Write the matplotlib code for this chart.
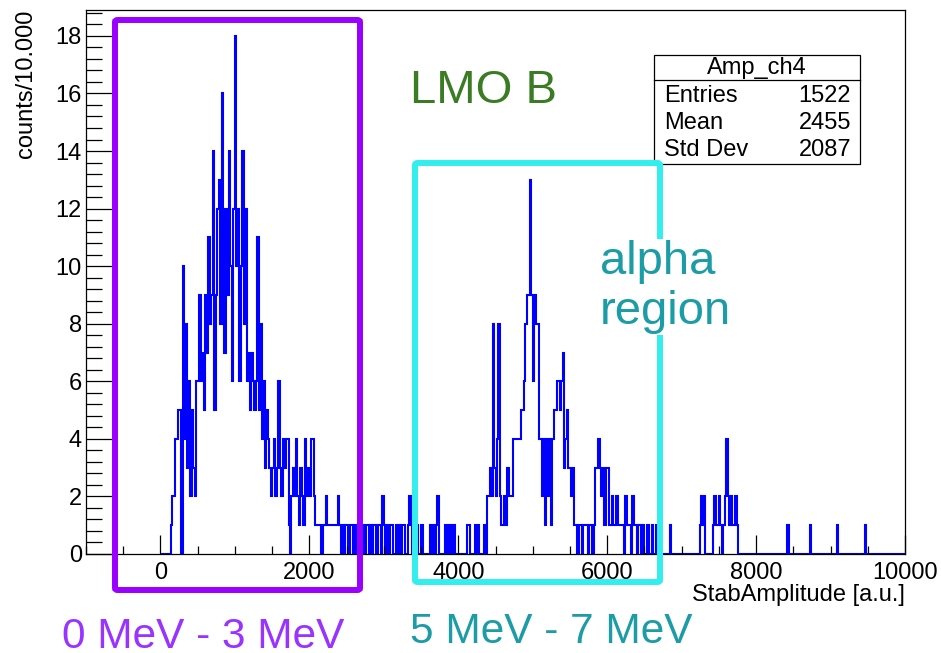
import numpy as np
import matplotlib.pyplot as plt
from matplotlib.patches import FancyBboxPatch, Rectangle
from matplotlib.ticker import MultipleLocator

plt.rcParams['font.family'] = ['Liberation Sans', 'DejaVu Sans']

# histogram Amp_ch4: 20 a.u. bins from 0 to 10000, one row = 500 a.u.
bin_width = 20
low_peak = [
    [0, 0, 0, 0, 0, 0, 0, 1, 2, 2, 4, 4, 5, 5, 0, 10, 4, 8, 3, 6, 2, 5, 3, 2, 6],
    [6, 9, 6, 7, 5, 9, 7, 11, 8, 9, 14, 5, 9, 12, 13, 8, 16, 12, 7, 12, 9, 14, 10, 6, 12],
    [18, 10, 12, 6, 10, 14, 8, 12, 6, 7, 5, 7, 6, 5, 6, 11, 5, 8, 4, 6, 3, 5, 4, 3, 2],
    [3, 4, 2, 3, 6, 3, 2, 4, 3, 4, 4, 1, 0, 2, 3, 2, 4, 2, 1, 3, 2, 1, 4, 2, 3],
    [2, 4, 4, 2, 1, 1, 1, 1, 0, 1, 1, 2, 1, 1, 1, 1, 1, 1, 1, 2, 1, 0, 1, 0, 1],
]
middle = [
    [1, 0, 1, 1, 0, 1, 0, 1, 0, 0, 0, 1, 0, 1, 1, 0, 1, 0, 1, 1, 0, 1, 1, 0, 2],
    [1, 0, 1, 0, 1, 1, 0, 0, 1, 0, 1, 0, 1, 1, 0, 0, 1, 2, 1, 0, 0, 0, 1, 0, 0],
    [1, 0, 0, 0, 0, 0, 1, 0, 1, 0, 1, 2, 0, 0, 0, 0, 1, 0, 1, 0, 1, 0, 1, 0, 0],
]
alpha_peak = [
    [0, 0, 0, 0, 0, 0, 1, 1, 0, 0, 0, 1, 0, 1, 0, 0, 0, 1, 0, 2, 2, 3, 2, 8, 3],
    [2, 4, 8, 2, 1, 1, 2, 1, 3, 2, 2, 2, 4, 4, 4, 4, 4, 5, 5, 6, 8, 9, 9, 13, 9],
    [6, 9, 8, 8, 4, 4, 2, 4, 1, 4, 2, 4, 1, 4, 5, 5, 6, 6, 5, 6, 7, 3, 4, 5, 3],
    [3, 2, 3, 1, 1, 0, 1, 1, 0, 1, 1, 1, 0, 1, 1, 0, 1, 3, 3, 4, 3, 2, 3, 1, 3],
    [3, 1, 1, 2, 1, 1, 2, 1, 1, 1, 1, 0, 2, 1, 1, 1, 0, 2, 1, 1, 0, 1, 1, 0, 1],
    [0, 0, 1, 0, 0, 1, 0, 0, 1, 0, 0, 0, 0, 0, 0, 0, 0, 1, 0, 0, 0, 0, 0, 0, 0],
]
tail = [
    [0, 0, 0, 0, 0, 0, 0, 0, 0, 0, 0, 0, 1, 2, 1, 2, 0, 0, 0, 0, 0, 1, 2, 1, 1],
    [2, 1, 0, 1, 2, 4, 2, 1, 2, 1, 1, 2, 1, 0, 0, 0, 0, 0, 0, 0, 0, 0, 0, 0, 0],
    [0, 0, 0, 0, 0, 0, 0, 0, 0, 0, 0, 0, 0, 0, 0, 0, 0, 0, 0, 0, 0, 1, 0, 0, 0],
    [0, 0, 0, 0, 0, 0, 0, 0, 0, 0, 0, 1, 0, 0, 0, 0, 0, 0, 0, 0, 0, 0, 0, 0, 0],
    [0, 0, 0, 0, 1, 0, 0, 0, 0, 0, 0, 0, 0, 0, 0, 0, 0, 0, 0, 0, 0, 0, 0, 1, 0],
    [0, 0, 0, 0, 0, 0, 0, 0, 0, 0, 0, 0, 0, 0, 0, 0, 0, 0, 0, 0, 0, 0, 0, 0, 0],
]

stats_title = 'Amp_ch4'
stats_names = ['Entries', 'Mean', 'Std Dev']
stats_values = ['1522', '2455', '2087']

W, H = 941, 653


def fx(x):
    return x / W


def fy(y):
    return 1 - y / H


counts = np.concatenate([np.ravel(r) for r in (low_peak, middle, alpha_peak, tail)])
edges = np.arange(len(counts) + 1) * bin_width

fig = plt.figure(figsize=(W / 100, H / 100), dpi=100)
ax = fig.add_axes([fx(86), fy(554), (905 - 86) / W, (554 - 10) / H])

ax.stairs(counts, edges, color='#0000ff', linewidth=1.5, baseline=0)

ax.set_xlim(-1000, 10000)
ax.set_ylim(0, 18.9)
ax.xaxis.set_major_locator(MultipleLocator(2000))
ax.xaxis.set_minor_locator(MultipleLocator(500))
ax.yaxis.set_major_locator(MultipleLocator(2))
ax.yaxis.set_minor_locator(MultipleLocator(0.4))
ax.tick_params(axis='both', which='both', direction='in', width=0.9,
               top=False, right=False, labelsize=17)
ax.tick_params(axis='x', which='major', length=13.5, pad=6)
ax.tick_params(axis='x', which='minor', length=5.8)
ax.tick_params(axis='y', which='major', length=18.5, pad=3)
ax.tick_params(axis='y', which='minor', length=11.3)
for s in ax.spines.values():
    s.set_linewidth(0.9)

ax.set_xlabel('StabAmplitude [a.u.]', fontsize=17, loc='right')
ax.xaxis.set_label_coords(1.0, -0.056)
ax.set_ylabel('counts/10.000', fontsize=17, loc='top')
ax.yaxis.set_label_coords(-0.06, 1.0)

# stats box
fig.add_artist(Rectangle((fx(654), fy(164)), (860 - 654) / W, (164 - 55) / H,
                         transform=fig.transFigure, facecolor='white',
                         edgecolor='black', linewidth=0.9, zorder=3))
fig.add_artist(plt.Line2D([fx(654), fx(860)], [fy(80), fy(80)],
                          transform=fig.transFigure, color='black',
                          linewidth=0.9, zorder=4))
fig.text(fx(757), fy(68), stats_title, ha='center', va='center', fontsize=17, zorder=5)
for i, (n, v) in enumerate(zip(stats_names, stats_values)):
    yy = fy(96 + 27 * i)
    fig.text(fx(664), yy, n, ha='left', va='center', fontsize=17, zorder=5)
    fig.text(fx(851), yy, v, ha='right', va='center', fontsize=17, zorder=5)

# region boxes
fig.add_artist(FancyBboxPatch((fx(115), fy(590)), (360 - 115) / W, (590 - 20) / H,
                              boxstyle='round,pad=0,rounding_size=0.003',
                              transform=fig.transFigure, facecolor='none',
                              edgecolor='#9900ff', linewidth=4.3, zorder=6))
fig.add_artist(FancyBboxPatch((fx(415), fy(582)), (660 - 415) / W, (582 - 163) / H,
                              boxstyle='round,pad=0,rounding_size=0.003',
                              transform=fig.transFigure, facecolor='none',
                              edgecolor='#33eeee', linewidth=4.3, zorder=6))

# annotations
fig.text(fx(410), fy(103), 'LMO B', color='#3b7b24', fontsize=34,
         ha='left', va='baseline', zorder=7)
fig.text(fx(600), fy(287), 'alpha\nregion', color='#1c9ca6', fontsize=34,
         ha='left', va='center', linespacing=1.17, zorder=7,
         bbox=dict(facecolor='white', edgecolor='none', pad=1))
fig.text(fx(62), fy(648), '0 MeV - 3 MeV', color='#9933ff', fontsize=30.5,
         ha='left', va='baseline', zorder=7)
fig.text(fx(410), fy(643), '5 MeV - 7 MeV', color='#1c9ca6', fontsize=30.5,
         ha='left', va='baseline', zorder=7)

fig.savefig('out.png', dpi=100)
